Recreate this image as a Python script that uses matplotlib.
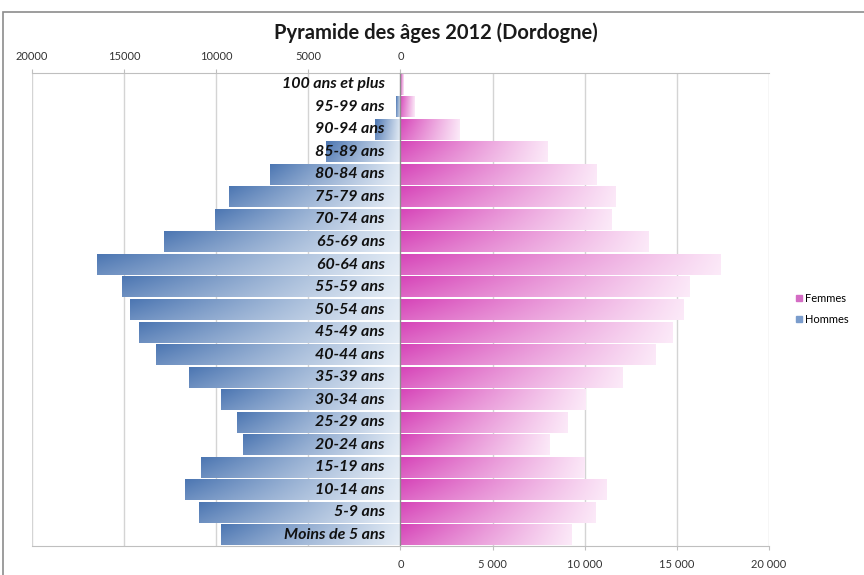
"""
Pyramide des âges 2012 (Dordogne) - recreated with matplotlib.
"""

import numpy as np
import matplotlib.pyplot as plt
from matplotlib.lines import Line2D
from matplotlib.patches import Rectangle

plt.rcParams["font.family"] = ["Lato", "DejaVu Sans"]

# Data, from youngest to oldest
ages = ["Moins de 5 ans", "5-9 ans", "10-14 ans", "15-19 ans", "20-24 ans",
        "25-29 ans", "30-34 ans", "35-39 ans", "40-44 ans", "45-49 ans",
        "50-54 ans", "55-59 ans", "60-64 ans", "65-69 ans", "70-74 ans",
        "75-79 ans", "80-84 ans", "85-89 ans", "90-94 ans", "95-99 ans",
        "100 ans et plus"]
hommes = [9730, 10920, 11680, 10820, 8530, 8860, 9730, 11470, 13260, 14180,
          14670, 15100, 16470, 12830, 10050, 9300, 7070, 4050, 1400, 220, 50]
femmes = [9300, 10600, 11200, 10000, 8100, 9080, 10050, 12070, 13860, 14780,
          15380, 15700, 17400, 13480, 11470, 11700, 10650, 8000, 3250, 800, 180]

top_ticks = [-20000, -15000, -10000, -5000, 0]
top_labels = ["20000", "15000", "10000", "5000", "0"]
bottom_ticks = [0, 5000, 10000, 15000, 20000]
bottom_labels = ["0", "5 000", "10 000", "15 000", "20 000"]

BLUE_DARK = np.array([76, 118, 178]) / 255
BLUE_LIGHT = np.array([225, 234, 244]) / 255
PINK_DARK = np.array([214, 68, 184]) / 255
PINK_LIGHT = np.array([251, 230, 247]) / 255


def gradient(c_left, c_right, n=256):
    t = np.linspace(0, 1, n)
    rows = np.linspace(0, 0.18, 16)[:, None, None]  # lighter towards bottom
    img = c_left[None, None, :] * (1 - t)[None, :, None] + c_right[None, None, :] * t[None, :, None]
    img = img * (1 - rows) + rows
    return np.clip(img, 0, 1)


fig = plt.figure(figsize=(8.64, 5.75), dpi=100)
ax = fig.add_axes([0.037, 0.050, 0.853, 0.823])

y = np.arange(len(ages))
bars_h = ax.barh(y, -np.array(hommes), height=0.92, color="none", zorder=2)
bars_f = ax.barh(y, femmes, height=0.92, color="none", zorder=2)

img_h = gradient(BLUE_DARK, BLUE_LIGHT)
img_f = gradient(PINK_DARK, PINK_LIGHT)
for bars, img in ((bars_h, img_h), (bars_f, img_f)):
    for p in bars:
        x0, w = p.get_x(), p.get_width()
        y0, h = p.get_y(), p.get_height()
        left, right = min(x0, x0 + w), max(x0, x0 + w)
        ax.imshow(img, extent=(left, right, y0, y0 + h), origin="upper",
                  aspect="auto", interpolation="bilinear", zorder=2)

ax.set_xlim(-20000, 20000)
ax.set_ylim(-0.5, len(ages) - 0.5)
ax.set_yticks([])

# age labels, right-aligned just left of the zero line
for yi, lab in zip(y, ages):
    ax.text(-850, yi, lab, ha="right", va="center", fontsize=11.5,
            fontweight="bold", fontstyle="italic", color="#111111", zorder=4)

# grid and axes
for xv in range(-20000, 20001, 5000):
    if xv != 0:
        ax.axvline(xv, color="#d4d4d4", lw=1, zorder=0)
ax.axvline(0, color="#8c8c8c", lw=1, zorder=3)
for side in ("left", "right"):
    ax.spines[side].set_visible(False)
for side in ("top", "bottom"):
    ax.spines[side].set_color("#bfbfbf")

ax.set_xticks(bottom_ticks)
ax.set_xticklabels(bottom_labels)
ax.tick_params(axis="x", labelsize=8, colors="#bfbfbf", labelcolor="#333333",
               length=3, pad=6)

ax_top = ax.twiny()
ax_top.set_xlim(ax.get_xlim())
ax_top.set_xticks(top_ticks)
ax_top.set_xticklabels(top_labels)
ax_top.tick_params(axis="x", labelsize=8, colors="#bfbfbf", labelcolor="#333333",
                   length=3, pad=5)
for side in ("left", "right", "bottom", "top"):
    ax_top.spines[side].set_visible(False)

fig.text(0.505, 0.943, "Pyramide des âges 2012 (Dordogne)", ha="center",
         va="center", fontsize=14.5, fontweight="bold", color="#1a1a1a")

handles = [Line2D([], [], ls="none", marker="s", markersize=4.5,
                  color="#d46cc4", label="Femmes"),
           Line2D([], [], ls="none", marker="s", markersize=4.5,
                  color="#7a9ccc", label="Hommes")]
fig.legend(handles=handles, loc="center left", bbox_to_anchor=(0.915, 0.463),
           frameon=False, fontsize=8, handletextpad=0.1, handlelength=0.8,
           labelspacing=0.9, borderaxespad=0)

fig.patches.append(Rectangle((0.003, -0.02), 1.02, 1.0, fill=False,
                             edgecolor="#8c8c8c", lw=1.2,
                             transform=fig.transFigure, figure=fig))

fig.savefig("out.png", dpi=100)
